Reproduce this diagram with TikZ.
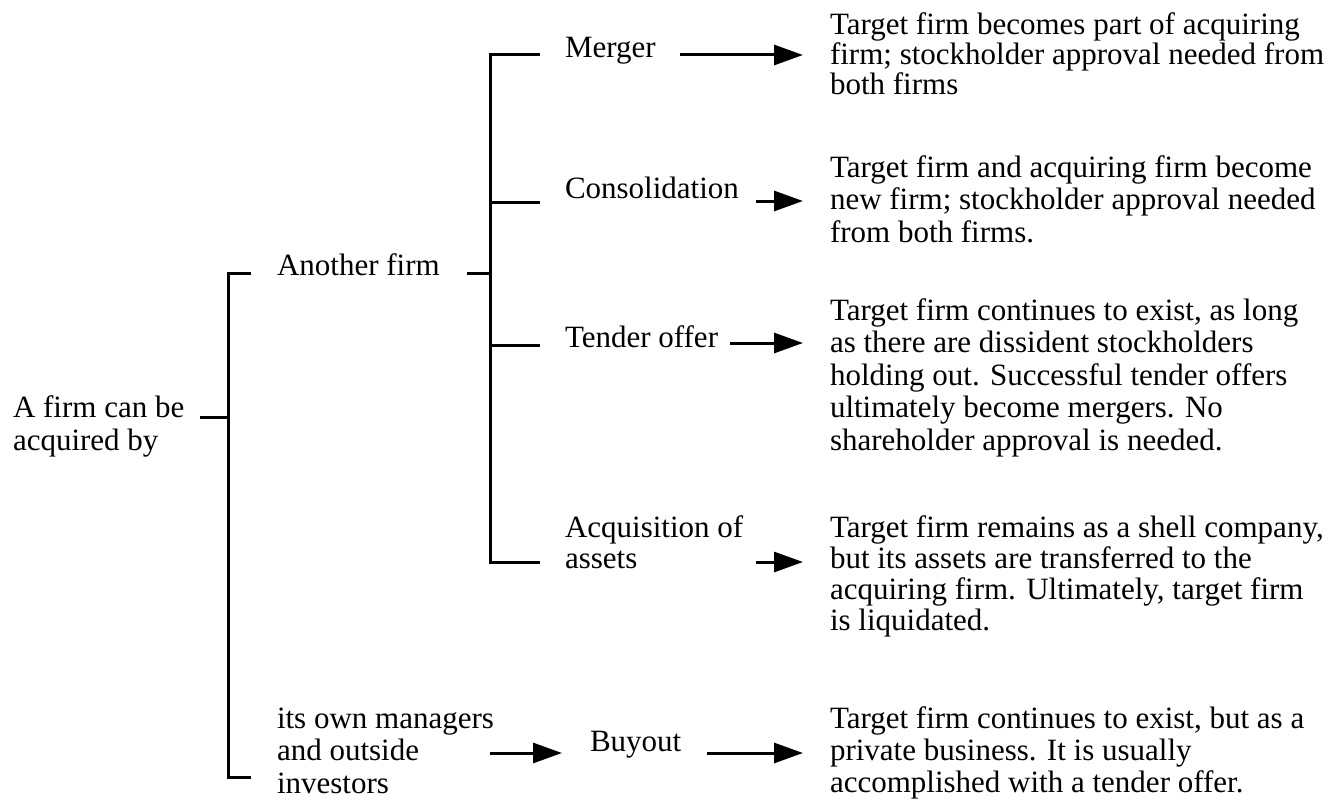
\documentclass[tikz,border=0pt]{standalone}
\usepackage{fontspec}
\setmainfont{Liberation Serif}
\usetikzlibrary{arrows.meta}
\newcommand\lns[2]{\vtop{\baselineskip=#1pt\relax\lineskiplimit=-1000pt\relax\let\\\cr\halign{##\hfil\cr#2\cr}}}
\begin{document}
\begin{tikzpicture}[x=1pt,y=-1pt,
  txt/.style={inner sep=0pt, outer sep=0pt, anchor=base west, font=\fontsize{31}{32}\selectfont},
  ln/.style={line width=3pt, line join=miter},
  arr/.style={line width=3pt, -{Triangle[length=29pt,width=20pt]}}]
\useasboundingbox (0,0) rectangle (1341,800);
% labels
\node[txt] (root) at (13,417) {\lns{33}{A firm can be\\acquired by}};
\node[txt] (another) at (277,275) {Another firm};
\node[txt] (own) at (277,728) {\lns{32.5}{its own managers\\and outside\\investors}};
\node[txt] (merger) at (565,58) {Merger};
\node[txt] (cons) at (565,198) {Consolidation};
\node[txt] (tender) at (565,347) {Tender offer};
\node[txt] (acq) at (565,537) {\lns{31}{Acquisition of\\assets}};
\node[txt] (buyout) at (590,751) {Buyout};
% descriptions
\node[txt] (dm) at (830,35) {\lns{30}{Target firm becomes part of acquiring\\firm; stockholder approval needed from\\both firms}};
\node[txt] (dc) at (830,177) {\lns{32.5}{Target firm and acquiring firm become\\new firm; stockholder approval needed\\from both firms.}};
\node[txt] (dt) at (830,320) {\lns{32.5}{Target firm continues to exist, as long\\as there are dissident stockholders\\holding out. Successful tender offers\\ultimately become mergers. No\\shareholder approval is needed.}};
\node[txt] (da) at (830,537) {\lns{31}{Target firm remains as a shell company,\\but its assets are transferred to the\\acquiring firm. Ultimately, target firm\\is liquidated.}};
\node[txt] (db) at (830,728) {\lns{32}{Target firm continues to exist, but as a\\private business. It is usually\\accomplished with a tender offer.}};
% bracket coordinates
\coordinate (rootT) at (200,417);
\coordinate (b1m) at (228,417);
\coordinate (b1t) at (228,273);
\coordinate (b1b) at (228,777);
\coordinate (b1te) at (251,273);
\coordinate (b1be) at (251,777);
\coordinate (anT) at (467,273);
\coordinate (b2a) at (490,273);
\coordinate (b2t) at (490,55);
\coordinate (b2b) at (490,562);
\coordinate (b2c) at (490,202);
\coordinate (b2d) at (490,345);
\coordinate (t1) at (540,55);
\coordinate (t2) at (540,202);
\coordinate (t3) at (540,345);
\coordinate (t4) at (540,562);
% brackets
\draw[ln] (b1te) -- (b1t) -- (b1b) -- (b1be);
\draw[ln] (rootT) -- (b1m);
\draw[ln] (anT) -- (b2a);
\draw[ln] (t1) -- (b2t) -- (b2b) -- (t4);
\draw[ln] (b2c) -- (t2);
\draw[ln] (b2d) -- (t3);
% arrow coordinates
\coordinate (mA) at (680,55);   \coordinate (mB) at (803,55);
\coordinate (cA) at (756,201);  \coordinate (cB) at (803,201);
\coordinate (tA) at (730,343);  \coordinate (tB) at (803,343);
\coordinate (aA) at (756,562);  \coordinate (aB) at (803,562);
\coordinate (oA) at (490,753);  \coordinate (oB) at (562,753);
\coordinate (yA) at (707,753);  \coordinate (yB) at (803,753);
\draw[arr] (mA) -- (mB);
\draw[arr] (cA) -- (cB);
\draw[arr] (tA) -- (tB);
\draw[arr] (aA) -- (aB);
\draw[arr] (oA) -- (oB);
\draw[arr] (yA) -- (yB);
\end{tikzpicture}
\end{document}
